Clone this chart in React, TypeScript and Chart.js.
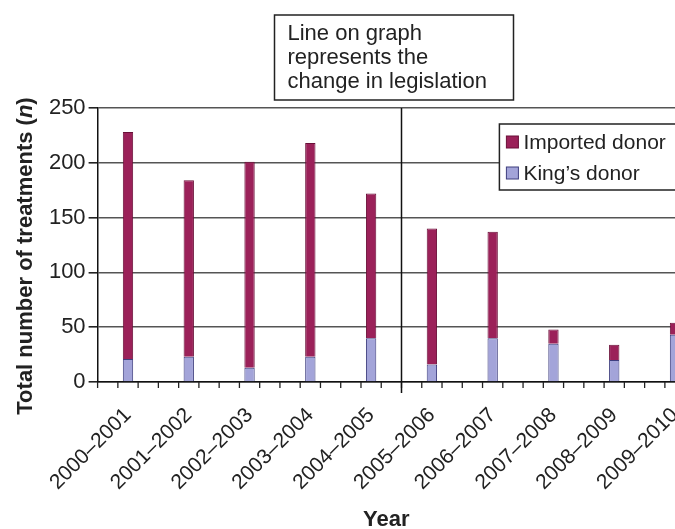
import React, { useEffect, useRef } from 'react';
import { Chart, registerables } from 'chart.js';

Chart.register(...registerables);

const categories = [
  '2000–2001', '2001–2002', '2002–2003', '2003–2004', '2004–2005',
  '2005–2006', '2006–2007', '2007–2008', '2008–2009', '2009–2010',
];
const kingsDonor = [21, 23, 13, 23, 40, 16, 40, 35, 20, 43];
const importedDonor = [207, 161, 188, 195, 132, 124, 97, 13, 14, 11];
const yMin = 0;
const yMax = 250;
const yStep = 50;
const legislationAfter = '2004–2005';
const noteLines = ['Line on graph', 'represents the', 'change in legislation'];
const yTitleParts = ['Total number of treatments (', 'n', ')'];
const xTitle = 'Year';
const seriesLabels = ['King’s donor', 'Imported donor'];

const FONT = '"Liberation Sans", Arial, Helvetica, sans-serif';
const TEXT = '#222';
const IMPORTED_FILL = '#9b2159';
const IMPORTED_EDGE = '#6a0f38';
const KINGS_FILL = '#a3a4d9';
const KINGS_EDGE = '#3e3e7e';

export default function App() {
  const ref = useRef<HTMLCanvasElement>(null);

  useEffect(() => {
    const canvas = ref.current;
    if (!canvas) return;

    const overlay = {
      id: 'overlay',
      afterDraw(chart: any) {
        const { ctx, chartArea: ca } = chart;
        const x = chart.scales.x;
        const catW = x.getPixelForValue(1) - x.getPixelForValue(0);
        ctx.save();

        // minor ticks on the x axis
        ctx.strokeStyle = '#222';
        ctx.lineWidth = 1.3;
        for (let i = 0; i < categories.length; i++) {
          for (let k = 0; k < 3; k++) {
            const px = x.getPixelForValue(i) - catW / 2 + (k * catW) / 3;
            ctx.beginPath();
            ctx.moveTo(px, ca.bottom);
            ctx.lineTo(px, ca.bottom + 6);
            ctx.stroke();
          }
        }

        // legislation line
        const li = categories.indexOf(legislationAfter);
        const lx = (x.getPixelForValue(li) + x.getPixelForValue(li + 1)) / 2;
        ctx.strokeStyle = '#111';
        ctx.lineWidth = 1.5;
        ctx.beginPath();
        ctx.moveTo(lx, ca.top);
        ctx.lineTo(lx, ca.bottom + 11);
        ctx.stroke();

        // note box
        const bx = lx - 127;
        const by = ca.top - 93;
        ctx.fillStyle = '#fff';
        ctx.fillRect(bx, by, 239, 85);
        ctx.strokeStyle = '#222';
        ctx.lineWidth = 1.5;
        ctx.strokeRect(bx, by, 239, 85);
        ctx.fillStyle = TEXT;
        ctx.font = `22px ${FONT}`;
        ctx.textAlign = 'left';
        ctx.textBaseline = 'alphabetic';
        noteLines.forEach((t, i) => ctx.fillText(t, bx + 13, by + 25 + i * 24));

        // legend
        const gx = ca.right - 206;
        const gy = ca.top + 16;
        ctx.fillStyle = '#fff';
        ctx.fillRect(gx, gy, 210, 66);
        ctx.strokeRect(gx, gy, 210, 66);
        const ds = chart.data.datasets.slice().reverse();
        ds.forEach((d: any, i: number) => {
          const cy = gy + 18 + i * 31;
          ctx.fillStyle = d.backgroundColor;
          ctx.fillRect(gx + 7, cy - 6, 12, 12);
          ctx.strokeStyle = d.borderColor;
          ctx.lineWidth = 1;
          ctx.strokeRect(gx + 7, cy - 6, 12, 12);
          ctx.fillStyle = TEXT;
          ctx.font = `21px ${FONT}`;
          ctx.textBaseline = 'middle';
          ctx.fillText(d.label, gx + 24, cy + 1);
        });

        // y title with italic n
        ctx.save();
        ctx.translate(32, 256);
        ctx.rotate(-Math.PI / 2);
        ctx.fillStyle = TEXT;
        ctx.textBaseline = 'alphabetic';
        ctx.textAlign = 'left';
        const fonts = [`bold 22px ${FONT}`, `italic bold 22px ${FONT}`, `bold 22px ${FONT}`];
        const widths = yTitleParts.map((p, i) => {
          ctx.font = fonts[i];
          return ctx.measureText(p).width;
        });
        let cx = -widths.reduce((a, b) => a + b, 0) / 2;
        yTitleParts.forEach((p, i) => {
          ctx.font = fonts[i];
          ctx.fillText(p, cx, 0);
          cx += widths[i];
        });
        ctx.restore();

        // x title
        ctx.fillStyle = TEXT;
        ctx.font = `bold 22px ${FONT}`;
        ctx.textAlign = 'center';
        ctx.textBaseline = 'alphabetic';
        ctx.fillText(xTitle, ca.left + (ca.right - ca.left) * 0.475, 526);

        ctx.restore();
      },
    };

    const chart = new Chart(canvas, {
      type: 'bar',
      data: {
        labels: categories,
        datasets: [
          {
            label: seriesLabels[0],
            data: kingsDonor,
            backgroundColor: KINGS_FILL,
            borderColor: KINGS_EDGE,
            borderWidth: 1,
            barPercentage: 0.17,
            categoryPercentage: 1,
          },
          {
            label: seriesLabels[1],
            data: importedDonor,
            backgroundColor: IMPORTED_FILL,
            borderColor: IMPORTED_EDGE,
            borderWidth: 1,
            barPercentage: 0.17,
            categoryPercentage: 1,
          },
        ],
      },
      options: {
        responsive: false,
        devicePixelRatio: 1,
        animation: false,
        layout: { padding: { left: 0, top: 108, right: 14.6, bottom: 0 } },
        plugins: {
          legend: { display: false },
          tooltip: { enabled: false },
        },
        scales: {
          x: {
            stacked: true,
            offset: true,
            grid: { display: false },
            border: { display: true, color: '#111', width: 1.5 },
            ticks: {
              autoSkip: false,
              minRotation: 45,
              maxRotation: 45,
              padding: 13,
              color: TEXT,
              font: { family: FONT, size: 21 },
            },
            afterFit(s: any) {
              s.height = 147;
            },
          },
          y: {
            stacked: true,
            min: yMin,
            max: yMax,
            ticks: {
              stepSize: yStep,
              padding: 3,
              color: TEXT,
              font: { family: FONT, size: 22 },
            },
            grid: { color: '#555', lineWidth: 1.6, tickLength: 9, tickColor: '#222', drawTicks: true },
            border: { display: true, color: '#111', width: 1.5 },
            afterFit(s: any) {
              s.width = 97.6;
            },
          },
        },
      },
      plugins: [overlay],
    });

    return () => chart.destroy();
  }, []);

  return (
    <div
      style={{
        position: 'fixed',
        left: 0,
        top: 0,
        width: 675,
        height: 529,
        overflow: 'hidden',
        background: '#fff',
      }}
    >
      <canvas ref={ref} width={720} height={529} style={{ display: 'block', width: 720, height: 529 }} />
    </div>
  );
}
